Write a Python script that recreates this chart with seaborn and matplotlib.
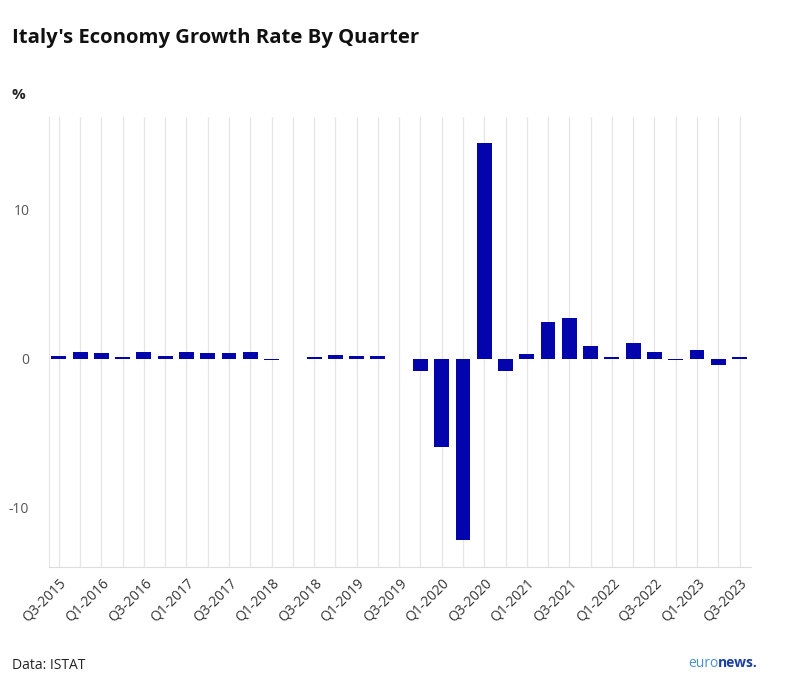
import numpy as np
import pandas as pd
import seaborn as sns
import matplotlib.pyplot as plt

# =========================
# DATA
# =========================
quarters = [
    "Q3-2015", "Q4-2015", "Q1-2016", "Q2-2016", "Q3-2016", "Q4-2016",
    "Q1-2017", "Q2-2017", "Q3-2017", "Q4-2017", "Q1-2018", "Q2-2018",
    "Q3-2018", "Q4-2018", "Q1-2019", "Q2-2019", "Q3-2019", "Q4-2019",
    "Q1-2020", "Q2-2020", "Q3-2020", "Q4-2020", "Q1-2021", "Q2-2021",
    "Q3-2021", "Q4-2021", "Q1-2022", "Q2-2022", "Q3-2022", "Q4-2022",
    "Q1-2023", "Q2-2023", "Q3-2023",
]
growth = [
    0.15, 0.45, 0.35, 0.1, 0.45, 0.2,
    0.45, 0.35, 0.35, 0.45, -0.1, 0.0,
    0.1, 0.25, 0.15, 0.15, 0.0, -0.8,
    -5.95, -12.2, 14.5, -0.8, 0.3, 2.45,
    2.75, 0.85, 0.1, 1.05, 0.45, -0.1,
    0.55, -0.45, 0.1,
]
yticks = [-10, 0, 10]

BAR_COLOR = "#0404ac"

df = pd.DataFrame({"quarter": quarters, "growth": growth})

# =========================
# PLOT
# =========================
sns.set_style("white")
plt.rcParams["font.family"] = ["Open Sans", "DejaVu Sans"]

fig = plt.figure(figsize=(8, 6.9), dpi=100)
ax = fig.add_axes([0.061, 0.178, 0.878, 0.652])

sns.barplot(data=df, x="quarter", y="growth", color=BAR_COLOR,
            width=0.7, linewidth=0, saturation=1, ax=ax, zorder=3)

ax.set_xlim(-0.47, len(quarters) - 0.45)
ax.set_ylim(-14.0, 16.2)

ax.set_xticks(range(len(quarters)))
ax.set_xticklabels([q if i % 2 == 0 else "" for i, q in enumerate(quarters)],
                   rotation=45, ha="right", rotation_mode="anchor",
                   fontsize=10, color="#333333")
ax.set_yticks(yticks)
ax.set_yticklabels([str(v) for v in yticks], fontsize=10, color="#555555")
ax.tick_params(axis="both", length=0)
ax.tick_params(axis="x", pad=6)
ax.tick_params(axis="y", pad=14)

ax.grid(axis="x", color="#e6e6e6", linewidth=0.9, zorder=0)
ax.grid(axis="y", visible=False)
ax.set_axisbelow(True)

for side in ["top", "right"]:
    ax.spines[side].set_visible(False)
ax.spines["left"].set_color("#e6e6e6")
ax.spines["bottom"].set_color("#dddddd")

ax.set_xlabel("")
ax.set_ylabel("")

# Titles and notes
fig.text(0.015, 0.945, "Italy's Economy Growth Rate By Quarter",
         fontsize=14.6, fontweight="bold", color="#111111", va="center")
fig.text(0.015, 0.862, "%", fontsize=11, fontweight="bold", color="#222222", va="center")
fig.text(0.015, 0.036, "Data: ISTAT", fontsize=10, color="#222222", va="center")
fig.text(0.860, 0.039, "euro", fontsize=10, color="#4a8fd8", va="center")
fig.text(0.8975, 0.039, "news.", fontsize=10, fontweight="bold", color="#1a3fa0", va="center")

plt.savefig("out.png", dpi=100)
